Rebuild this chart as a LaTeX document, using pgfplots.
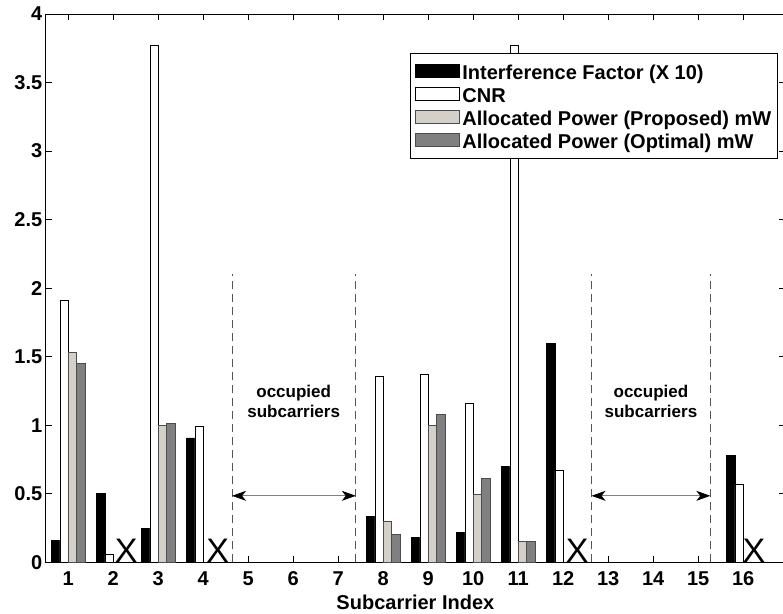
\documentclass[border=0pt]{standalone}
\usepackage{fontspec}
\setmainfont{Liberation Sans}
\usepackage{pgfplots}
\pgfplotsset{compat=1.18}
\usetikzlibrary{arrows.meta}

\definecolor{pwrProp}{RGB}{212,208,200}
\definecolor{pwrOpt}{RGB}{128,128,128}
\definecolor{sepGray}{RGB}{85,85,85}

\begin{document}
\begin{tikzpicture}[
    xmark/.style={anchor=base, inner sep=0pt, font=\fontsize{34}{34}\selectfont},
    occ/.style={align=center, font=\fontsize{17}{20}\selectfont\bfseries},
    dblarrow/.style={gray, line width=0.8pt,
        {Stealth[black,length=14pt,width=10pt,inset=4pt]}-{Stealth[black,length=14pt,width=10pt,inset=4pt]}},
]
\begin{axis}[
    scale only axis,
    width=739.2pt, height=548.3pt,
    xmin=0.5, xmax=16.93, ymin=0, ymax=4,
    ybar=0pt, bar width=0.185,
    xtick={1,...,16},
    ytick={0,0.5,1,1.5,2,2.5,3,3.5,4},
    tick align=inside, major tick length=6pt,
    tick style={black, line width=0.6pt},
    axis line style={line width=0.8pt},
    /pgf/number format/assume math mode=true,
    ticklabel style={font=\fontsize{20}{20}\selectfont\bfseries},
    xticklabel style={yshift=-6pt},
    xlabel={Subcarrier Index},
    xlabel style={font=\fontsize{20}{20}\selectfont\bfseries, yshift=-2pt},
    legend style={
        at={(0.99,0.929)}, anchor=north east,
        draw=black, line width=0.6pt,
        font=\fontsize{20}{23}\selectfont\bfseries,
        inner xsep=5pt, inner ysep=9pt,
        row sep=5pt,
        nodes={inner xsep=1pt, inner ysep=0pt, text height=17pt, text depth=1pt},
    },
    legend cell align=left,
    legend image code/.code={
        \draw[#1] (0pt,-6.5pt) rectangle (44pt,6.5pt);
        \path (46pt,0pt);
    },
]
% Interference factor (x10)
\addplot[fill=black, draw=black, line width=0.5pt] coordinates {
    (1,0.162) (2,0.505) (3,0.25) (4,0.908) (8,0.337)
    (9,0.18) (10,0.22) (11,0.70) (12,1.596) (16,0.78)
};
% CNR
\addplot[fill=white, draw=black, line width=0.5pt] coordinates {
    (1,1.91) (2,0.058) (3,3.77) (4,0.99) (8,1.357)
    (9,1.372) (10,1.16) (11,3.77) (12,0.67) (16,0.568)
};
% allocated power, proposed
\addplot[fill=pwrProp, draw=black!70, line width=0.5pt] coordinates {
    (1,1.534) (3,0.998) (8,0.296) (9,1.0) (10,0.5) (11,0.153)
};
% allocated power, optimal
\addplot[fill=pwrOpt, draw=black!70, line width=0.5pt] coordinates {
    (1,1.45) (3,1.015) (8,0.206) (9,1.08) (10,0.61) (11,0.153)
};
\legend{Interference Factor (X 10), CNR,
        Allocated Power (Proposed) mW, Allocated Power (Optimal) mW}

% occupied bands
\draw[sepGray, line width=0.7pt, dash pattern=on 8pt off 5pt]
    (axis cs:4.64,0) -- (axis cs:4.64,2.105)
    (axis cs:7.39,0) -- (axis cs:7.39,2.105)
    (axis cs:12.63,0) -- (axis cs:12.63,2.105)
    (axis cs:15.27,0) -- (axis cs:15.27,2.105);
\draw[dblarrow] (axis cs:4.64,0.485) -- (axis cs:7.39,0.485);
\draw[dblarrow] (axis cs:12.63,0.485) -- (axis cs:15.27,0.485);
\node[occ] at (axis cs:6.01,1.17) {occupied\\subcarriers};
\node[occ] at (axis cs:13.95,1.17) {occupied\\subcarriers};

% unallocated subcarriers
\node[xmark] at (axis cs:2.29,0) {X};
\node[xmark] at (axis cs:4.32,0) {X};
\node[xmark] at (axis cs:12.31,0) {X};
\node[xmark] at (axis cs:16.24,0) {X};
\end{axis}
\pgfresetboundingbox
\path[use as bounding box]
    ([xshift=-45.8pt,yshift=-51.7pt]current axis.south west)
    rectangle ([xshift=-2pt,yshift=14pt]current axis.north east);
\end{tikzpicture}
\end{document}
